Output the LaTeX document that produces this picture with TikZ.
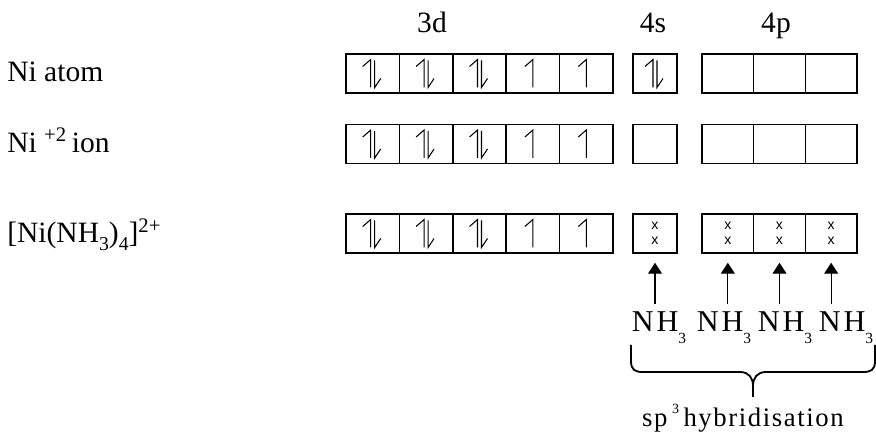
\documentclass[tikz,border=0pt]{standalone}
\usepackage{fontspec}
\setmainfont{Liberation Serif}
\newfontfamily\crossfont{Liberation Sans}
\newfontfamily\spacedfont[LetterSpace=10]{Liberation Serif}
\newfontfamily\hybridfont[LetterSpace=6]{Liberation Serif}
\usetikzlibrary{arrows.meta}

\newcommand{\lowsub}[1]{\raisebox{-.55ex}{\fontsize{14pt}{14pt}\selectfont #1}}
\newcommand{\ligsub}[1]{\raisebox{-.8ex}{\fontsize{11pt}{11pt}\selectfont #1}}
\newcommand{\hisup}[1]{\raisebox{1.1ex}{\fontsize{10pt}{10pt}\selectfont #1}}

\tikzset{
  orb/.style = {draw, line width = 1.05pt, inner sep = 0pt, minimum height = 0.975cm},
  elec/.style = {line width = .75pt},
  lbl/.style = {anchor = base west, inner sep = 0pt, font = \fontsize{21pt}{25pt}\selectfont},
  shell/.style = {anchor = base, inner sep = 0pt, font = \fontsize{21pt}{25pt}\selectfont},
  ligand/.style = {anchor = base, inner sep = 0pt, font = \fontsize{21.5pt}{25pt}\spacedfont},
  hybrid/.style = {anchor = base, inner sep = 0pt, font = \fontsize{19pt}{23pt}\hybridfont},
  cross/.style = {inner sep = 0pt, font = \fontsize{10pt}{11pt}\crossfont},
  donor/.style = {line width = .8pt, -{Triangle[width = .35cm, length = .275cm]},
                  shorten < = .2cm, shorten > = .225cm},
  spinup/.pic = {\draw [elec] (0,14) -- (0,-14) -- (-8,-7);},
  spindown/.pic = {\draw [elec] (0,-13) -- (0,14) -- (6,5);},
  spinpair/.pic = {\pic at (-2,0) {spinup}; \pic at (2,0) {spindown};},
  pairx/.pic = {\node [cross] (-up) at (0,-7.5) {x}; \node [cross] (-lo) at (0,7.5) {x};}
}

\begin{document}
\begin{tikzpicture}[x = .025cm, y = -.025cm]
    \useasboundingbox (0,0) rectangle (876,432);
    % shell headings
    \node [shell] (l3d) at (432,33) {3d};
    \node [shell] (l4s) at (653,33) {4s};
    \node [shell] (l4p) at (776,33) {4p};
    % row labels
    \node [lbl] (atom) at (7,81.5) {Ni atom};
    \node [lbl] (ion) at (7,152.5) {Ni \textsuperscript{+2}\,ion};
    \node [lbl] (cplx) at (7,243) {[Ni(NH\lowsub{3})\lowsub{4}]\textsuperscript{2+}};
    % orbital boxes
    \foreach \row/\y in {a/73.5, i/144, c/233.5} {
      \foreach \k in {1, ..., 5} {
        \node [orb, minimum width = 1.335cm] (\row-d\k) at ({346 + 53.4*(\k - .5)}, \y) {};
      }
      \node [orb, minimum width = 1.1cm] (\row-s) at (655,\y) {};
      \foreach \k in {1, 2, 3} {
        \node [orb, minimum width = 1.2917cm] (\row-p\k) at ({702 + 51.67*(\k - .5)}, \y) {};
      }
      \foreach \k in {1, 2, 3}
        \pic at (\row-d\k) {spinpair};
      \foreach \k in {4, 5}
        \pic at (\row-d\k) {spinup};
    }
    \pic at (a-s) {spinpair};
    \pic (c-xs) at (c-s) {pairx};
    \foreach \k in {1, 2, 3}
      \pic (c-x\k) at (c-p\k) {pairx};
    % ligands
    \foreach \k/\x in {1/659, 2/724, 3/785, 4/846}
      \node [ligand] (nh\k) at (\x,332) {NH\ligsub{3}};
    \foreach \k/\b in {1/c-s, 2/c-p1, 3/c-p2, 4/c-p3}
      \draw [donor] (\b.south |- nh\k.north) -- (\b.south);
    % brace
    \coordinate (bl) at (631,345);
    \coordinate (br) at (875,345);
    \draw [line width = 1.3pt] (bl) -- ++(0,16) .. controls ++(0,9) and ++(-8,0) .. ++(12,11)
      -- (740,372) .. controls ++(9,0) and ++(0,-8) .. (753,386) -- (753,397)
      (753,386) .. controls ++(0,-8) and ++(-9,0) .. (766,372)
      -- (863,372) .. controls ++(8,0) and ++(0,9) .. (875,361) -- (br);
    \node [hybrid] (sp3) at (743,427) {sp\,\hisup{3}\,hybridisation};
\end{tikzpicture}
\end{document}
